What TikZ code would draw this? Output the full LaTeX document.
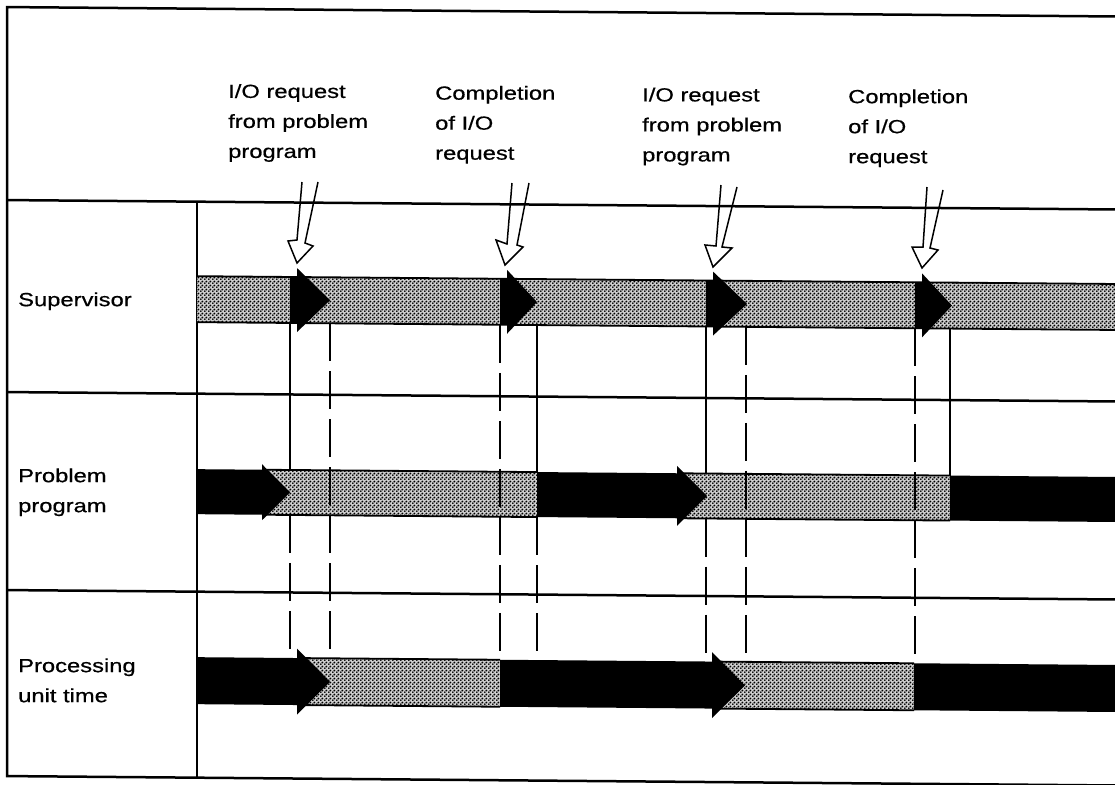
\documentclass[tikz,border=0pt]{standalone}
\usepackage{fontspec}
\setmainfont{Liberation Sans}[FakeStretch=1.25,FakeBold=0.6]
\usetikzlibrary{patterns}

% fine dot screen used for the idle / waiting periods
\pgfdeclarepatternformonly{stipple}{\pgfqpoint{0pt}{0pt}}{\pgfqpoint{4pt}{4pt}}{\pgfqpoint{4pt}{4pt}}{%
  \pgfpathcircle{\pgfqpoint{1pt}{1pt}}{1.2pt}%
  \pgfpathcircle{\pgfqpoint{3pt}{3pt}}{1.2pt}%
  \pgfusepath{fill}}

% idle span with its upper and lower edges: x1, x2, top, bottom
\newcommand\idlespan[4]{%
  \fill[black!20] (#1,#3) rectangle (#2,#4);
  \fill[pattern=stipple] (#1,#3) rectangle (#2,#4);
  \draw[edge] (#1,#3) -- (#2,#3) (#1,#4) -- (#2,#4);}

% busy span ending in a block arrow: x1, head base, tip, top, bottom, head half height
\newcommand\busyarrow[6]{%
  \fill (#1,#4) -- (#2,#4) -- (#2,{(#4+#5)/2-#6}) -- (#3,{(#4+#5)/2})
        -- (#2,{(#4+#5)/2+#6}) -- (#2,#5) -- (#1,#5) -- cycle;}

\begin{document}
\begin{tikzpicture}[x=1pt,y=-1pt,
  frame/.style={line width=2.5pt},
  edge/.style={line width=1.8pt},
  guide/.style={line width=1.6pt},
  guidedash/.style={line width=1.6pt, dash pattern=on 38pt off 10pt},
  callout/.style={line width=1.5pt, line join=miter},
  rowlabel/.style={anchor=base west, inner sep=0pt, font=\fontsize{19}{30}\selectfont, align=left},
  headlabel/.style={anchor=north west, inner sep=0pt, font=\fontsize{19}{30}\selectfont, align=left}]
\useasboundingbox (0,0) rectangle (1115,784);

\begin{scope}[yslant=-0.0085]
  % frame, header rule, label column and row rules
  \draw[frame] (1115,7) -- (7,7) -- (7,776) -- (1115,776);
  \draw[frame] (7,200) -- (1115,200);
  \draw[frame] (197,200) -- (197,776);
  \draw[frame] (7,392) -- (1115,392);
  \draw[frame] (7,590) -- (1115,590);

  % idle (waiting) spans of the three rows
  \idlespan{197}{1115}{274.5}{320.5}
  \idlespan{262}{537}{467.5}{512.5}
  \idlespan{677}{950}{467.5}{512.5}
  \idlespan{297}{500}{655.5}{702.5}
  \idlespan{712}{914}{655.5}{702.5}

  % guide lines between the rows
  \draw[guide]     (290,320.5) -- (290,467.5);
  \draw[guidedash] (290,512.5) -- (290,655.5);
  \draw[guidedash] (330,320.5) -- (330,655.5);
  \draw[guidedash] (500,320.5) -- (500,655.5);
  \draw[guide]     (537,320.5) -- (537,467.5);
  \draw[guidedash] (537,512.5) -- (537,655.5);
  \draw[guide]     (706,320.5) -- (706,467.5);
  \draw[guidedash] (706,512.5) -- (706,655.5);
  \draw[guidedash] (746,320.5) -- (746,655.5);
  \draw[guidedash] (915,320.5) -- (915,655.5);
  \draw[guide]     (950,320.5) -- (950,467.5);

  % supervisor busy spans
  \busyarrow{290}{297}{330}{274.5}{320.5}{32}
  \busyarrow{500}{507}{537}{274.5}{320.5}{32}
  \busyarrow{706}{713}{747}{274.5}{320.5}{32}
  \busyarrow{915}{922}{952}{274.5}{320.5}{32}

  % problem program busy spans
  \busyarrow{197}{262}{290}{467.5}{512.5}{28}
  \busyarrow{537}{677}{707}{467.5}{512.5}{30}
  \fill (950,467.5) rectangle (1115,512.5);

  % processing unit busy spans
  \busyarrow{197}{297}{330}{655.5}{702.5}{33}
  \busyarrow{500}{712}{745}{655.5}{702.5}{33}
  \fill (914,655.5) rectangle (1115,702.5);

  % row labels
  \node[rowlabel] (sup) at (18,306) {Supervisor};
  \node[rowlabel] (pp1) at (18,482) {Problem};
  \node[rowlabel] (pp2) at (18,512) {program};
  \node[rowlabel] (pu1) at (18,672) {Processing};
  \node[rowlabel] (pu2) at (18,702) {unit time};

  % event labels
  \node[headlabel] (ev1) at (228,82) {I/O request\\from problem\\program};
  \node[headlabel] (ev2) at (435,82) {Completion\\of I/O\\request};
  \node[headlabel] (ev3) at (642,82) {I/O request\\from problem\\program};
  \node[headlabel] (ev4) at (848,82) {Completion\\of I/O\\request};
\end{scope}

% hollow pointers from the event labels down to the supervisor
\draw[callout] (302,182) -- (297,240) -- (288,241) -- (297,263) -- (313,246) -- (305,243) -- (318,182);
\draw[callout] (512,183) -- (507,244) -- (496,240) -- (505,265) -- (523,247) -- (517,245) -- (529,183);
\draw[callout] (721,185) -- (716,246) -- (705,245) -- (713,267) -- (732,248) -- (722,247) -- (737,187);
\draw[callout] (927,187) -- (923,247) -- (912,247) -- (922,268) -- (938,250) -- (930,248) -- (943,190);
\end{tikzpicture}
\end{document}
